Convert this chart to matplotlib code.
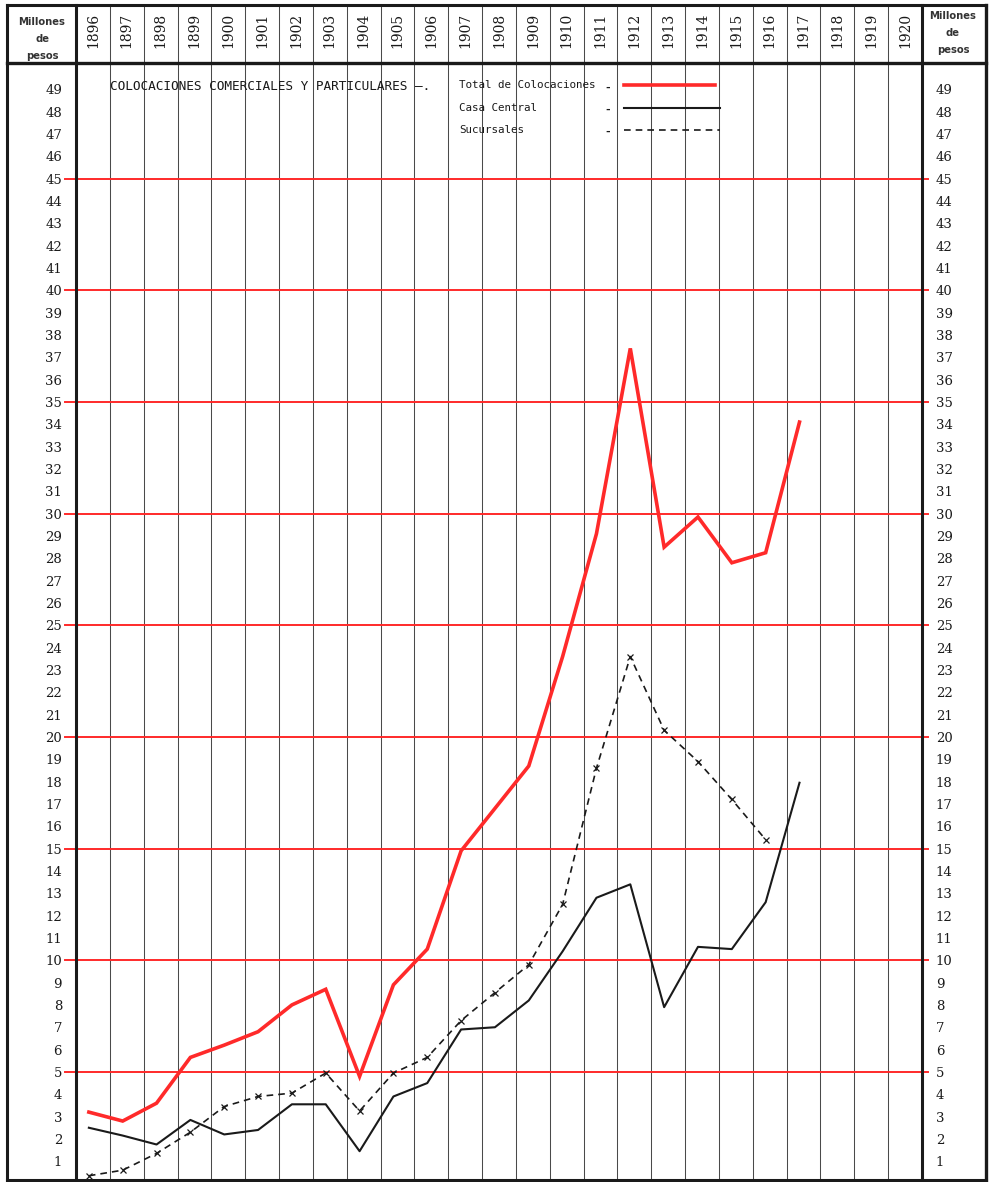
import numpy as np
import matplotlib

matplotlib.use("Agg")
import matplotlib.pyplot as plt
from matplotlib.lines import Line2D

# Colocaciones comerciales y particulares, millones de pesos
YEARS = list(range(1896, 1921))
TOTAL_YEARS = list(range(1896, 1918))
TOTAL = [3.2, 2.8, 3.6, 5.65, 6.2, 6.8, 8.0, 8.7, 4.8, 8.9, 10.5,
         14.9, 16.8, 18.7, 23.6, 29.1, 37.4, 28.5, 29.85, 27.8, 28.25, 34.1]
CASA_YEARS = list(range(1896, 1918))
CASA = [2.5, 2.15, 1.75, 2.85, 2.2, 2.4, 3.55, 3.55, 1.45, 3.9, 4.5,
        6.9, 7.0, 8.2, 10.4, 12.8, 13.4, 7.9, 10.6, 10.5, 12.6, 17.95]
SUC_YEARS = list(range(1896, 1917))
SUC = [0.35, 0.6, 1.35, 2.3, 3.45, 3.9, 4.05, 4.95, 3.25, 4.95, 5.65,
       7.3, 8.55, 9.8, 12.5, 18.6, 23.6, 20.3, 18.9, 17.2, 15.4]
UNIT = ["Millones", "de", "pesos"]
TITLE = "COLOCACIONES COMERCIALES Y PARTICULARES —."
LEGEND = ["Total de Colocaciones", "Casa Central", "Sucursales"]

W, H = 994, 1182
RED = "#ff2a2a"
INK = "#1a1a1a"
GRID = "#4a4a4a"
SERIF = "DejaVu Serif"


def fx(px):
    return px / W


def fy(py):
    return 1 - py / H


fig = plt.figure(figsize=(W / 100, H / 100), dpi=100)
fig.patch.set_facecolor("white")

# year columns: points sit a little left of each column's centre
X0 = YEARS[0] - 0.38
X1 = X0 + len(YEARS)
ax = fig.add_axes([fx(76), fy(1180), fx(922) - fx(76), fy(63) - fy(1180)])
ax.set_xlim(X0, X1)
ax.set_ylim(0.16, 50.18)
for s in ax.spines.values():
    s.set_visible(False)
ax.set_xticks([])
ax.set_yticks(range(1, 50))
ax.tick_params(axis="y", length=0, pad=10, labelsize=9.5, labelcolor=INK,
               labelleft=True, labelright=True)
for lab in ax.get_yticklabels():
    lab.set_fontfamily(SERIF)

edges = np.arange(X0, X1 + 0.01, 1.0)
ax.vlines(edges[1:-1], 0.16, 50.18, color=GRID, lw=0.75, zorder=1)

# red guide lines every 5 millions, running slightly past the frame
for v in range(5, 50, 5):
    ax.add_line(Line2D([X0 - 0.33, X1 + 0.18], [v, v], color=RED, lw=1.4,
                       clip_on=False, zorder=2))

ax.plot(TOTAL_YEARS, TOTAL, color=RED, lw=2.6, solid_joinstyle="miter", zorder=5)
ax.plot(CASA_YEARS, CASA, color=INK, lw=1.5, zorder=4)
ax.plot(SUC_YEARS, SUC, color=INK, lw=1.2, ls=(0, (4, 3)), marker="x",
        ms=4, mew=0.9, zorder=4)

# legend block written into the grid
mono = "DejaVu Sans Mono"
ax.text(0.040, 0.979, TITLE, transform=ax.transAxes, family=mono,
        fontsize=9.2, va="center", ha="left", color=INK, zorder=6)
leg_y = [0.980, 0.960, 0.940]
leg_x1 = [0.755, 0.761, 0.761]
styles = [dict(color=RED, lw=2.6), dict(color=INK, lw=1.5),
          dict(color=INK, lw=1.2, ls=(0, (4, 3)))]
for label, y, x1, st in zip(LEGEND, leg_y, leg_x1, styles):
    ax.text(0.4527, y, label, transform=ax.transAxes, family=mono,
            fontsize=7.8, va="center", ha="left", color=INK, zorder=6)
    ax.text(0.628, y - 0.002, "-", transform=ax.transAxes, family=mono,
            fontsize=8, fontweight="bold", va="center", ha="center",
            color=INK, zorder=6)
    ax.add_line(Line2D([0.648, x1], [y, y], transform=ax.transAxes, zorder=6, **st))

# header row with the years
hx = fig.add_axes([fx(76), fy(63), fx(922) - fx(76), fy(5) - fy(63)])
hx.set_xlim(X0, X1)
hx.set_ylim(0, 1)
hx.axis("off")
hx.vlines(edges[1:-1], 0, 1, color=GRID, lw=0.75)
for yr in YEARS:
    hx.text(yr + 0.12, 0.56, str(yr), rotation=90, ha="center", va="center",
            family=SERIF, fontsize=10, color=INK)

# unit boxes on both sides
for cx, ys in [(42, [22, 39, 56]), (953, [16, 33, 50])]:
    for word, py in zip(UNIT, ys):
        fig.text(fx(cx), fy(py), word, ha="center", va="center",
                 family="DejaVu Sans", fontsize=7.2, fontweight="bold",
                 color="#333333")

# outer frame and dividers
frame = [((7, 5), (986, 5), 2.2), ((7, 1180), (986, 1180), 2.2),
         ((7, 5), (7, 1180), 2.2), ((986, 5), (986, 1180), 2.4),
         ((7, 63), (986, 63), 2.4), ((76, 5), (76, 1180), 2.2),
         ((922, 5), (922, 1180), 2.2)]
for (xa, ya), (xb, yb), lw in frame:
    fig.add_artist(Line2D([fx(xa), fx(xb)], [fy(ya), fy(yb)],
                          color=INK, lw=lw, transform=fig.transFigure))

fig.savefig("out.png", dpi=100, facecolor="white")
